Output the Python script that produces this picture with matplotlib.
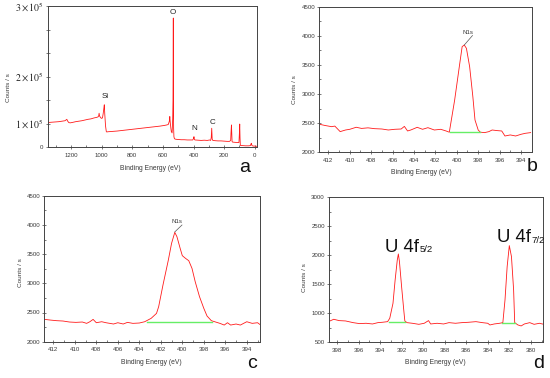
import matplotlib
matplotlib.use("Agg")
import matplotlib.pyplot as plt
from matplotlib.ticker import MultipleLocator

# ---------------- data ----------------
# panel a: survey spectrum (binding energy eV, counts/s)
a_energy = [1353, 1340, 1320, 1300, 1280, 1260, 1240, 1232, 1228, 1222, 1215, 1205, 1190, 1170,
            1150, 1130, 1110, 1090, 1070, 1050, 1035, 1025, 1020, 1017, 1014, 1008, 1002, 995,
            990, 985, 983, 980, 975, 970, 967, 960, 940, 900, 860, 820, 780, 740, 700, 660, 620,
            590, 575, 565, 558, 555, 552, 548, 545, 540, 536, 534, 533, 532, 531, 530, 528, 525,
            521, 515, 500, 480, 460, 440, 420, 405, 400, 397, 394, 390, 370, 350, 330, 310, 295,
            288, 284, 281, 278, 274, 260, 240, 220, 200, 180, 165, 157, 155, 152, 150, 148, 145,
            130, 115, 103, 100, 98, 96, 94, 92, 80, 60, 40, 28, 25, 22, 18, 10, 0, -12]
a_counts = [52000, 52500, 53000, 53500, 54000, 55000, 56000, 58000, 59000, 55000, 52000, 51500,
            52500, 54000, 55000, 56000, 57500, 59000, 60000, 62000, 63000, 64000, 66000, 72000,
            66000, 63000, 61000, 62000, 72000, 85000, 90000, 70000, 45000, 33000, 32000, 32500,
            33000, 34000, 35500, 37000, 38500, 40000, 41500, 43000, 44500, 46000, 47000, 48000,
            55000, 65000, 52000, 40000, 33000, 30000, 60000, 100000, 180000, 275000, 100000, 40000,
            22000, 18000, 17000, 16500, 16000, 15500, 15500, 15000, 15000, 15000, 18000, 22000,
            16000, 15000, 14500, 14000, 14500, 14000, 15000, 14000, 20000, 40000, 17000, 14000,
            13500, 13000, 13000, 12500, 12000, 12000, 14000, 30000, 47000, 30000, 12000, 10500,
            10000, 9500, 9500, 30000, 49000, 20000, 4000, 3000, 3000, 2500, 2500, 3000, 6000, 8000,
            3000, 2000, 2000, 1500]
a_peak_names = ["O", "Si", "N", "C"]
a_yticks = [0, 50000, 100000, 150000, 200000, 250000, 300000]
a_yticklabels = ["0", r"$1\times10^5$", "", r"$2\times10^5$", "", "", r"$3\times10^5$"]

# panel b: N1s high-resolution spectrum
b_energy = [412.8, 412.3, 411.7, 411.4, 410.9, 410.4, 410.0, 409.4, 408.9, 408.3, 407.7, 407.0,
            406.4, 405.8, 405.2, 404.9, 404.6, 404.3, 403.7, 403.2, 402.7, 402.1, 401.5, 401.0,
            400.7, 400.2, 399.7, 399.5, 399.3, 399.1, 398.8, 398.5, 398.3, 398.0, 397.8, 397.4,
            397.0, 396.7, 396.2, 395.8, 395.5, 395.0, 394.5, 394.0, 393.6, 393.1]
b_counts = [2480, 2460, 2440, 2450, 2355, 2383, 2395, 2430, 2410, 2420, 2406, 2400,
            2383, 2395, 2400, 2445, 2366, 2383, 2429, 2395, 2423, 2383, 2395, 2366,
            2345, 2898, 3556, 3814, 3842, 3785, 3470, 2955, 2555, 2383, 2345, 2338,
            2355, 2383, 2372, 2366, 2280, 2298, 2280, 2309, 2326, 2338]
b_base_energy = [400.65, 397.85]
b_base_counts = [2340, 2340]

# panel c: N1s high-resolution spectrum
c_energy = [412.8, 412.3, 411.7, 411.1, 410.5, 409.9, 409.3, 408.9, 408.6, 408.3, 408.0, 407.5,
            407.1, 406.4, 406.0, 405.5, 405.1, 404.6, 404.0, 403.5, 402.9, 402.4, 402.2, 401.8,
            401.3, 401.0, 400.7, 400.5, 400.2, 400.0, 399.7, 399.4, 399.1, 398.8, 398.4, 398.0,
            397.7, 397.3, 396.9, 396.5, 396.1, 395.8, 395.5, 395.0, 394.6, 394.0, 393.5, 393.0,
            392.8]
c_counts = [2382, 2371, 2360, 2354, 2337, 2331, 2337, 2314, 2342, 2382, 2325, 2342,
            2325, 2303, 2325, 2303, 2331, 2314, 2320, 2342, 2400, 2485, 2600, 2970,
            3398, 3684, 3872, 3798, 3598, 3473, 3427, 3387, 3256, 3027, 2771, 2571,
            2440, 2360, 2337, 2314, 2285, 2325, 2285, 2303, 2285, 2342, 2314, 2325,
            2297]
c_base_energy = [403.3, 397.2]
c_base_counts = [2345, 2345]

# panel d: U 4f high-resolution spectrum
d_energy = [398.65, 398.3, 397.8, 397.2, 396.5, 395.9, 395.3, 394.7, 394.2, 393.8, 393.3, 393.1,
            392.8, 392.6, 392.4, 392.3, 392.2, 392.0, 391.8, 391.7, 391.5, 391.0, 390.4, 389.9,
            389.5, 389.3, 388.7, 388.1, 387.6, 387.0, 386.4, 385.8, 385.1, 384.5, 384.0, 383.8,
            383.4, 382.9, 382.6, 382.4, 382.2, 382.0, 381.8, 381.6, 381.5, 381.2, 380.9, 380.6,
            380.1, 379.7, 379.2, 378.8]
d_counts = [868, 897, 874, 868, 839, 822, 828, 816, 839, 845, 856, 914,
            1172, 1575, 1920, 2023, 1891, 1460, 1057, 868, 839, 828, 810, 828,
            874, 816, 828, 816, 839, 828, 839, 845, 856, 839, 828, 799,
            816, 828, 839, 1230, 1805, 2167, 1977, 1402, 839, 799, 782, 816,
            839, 810, 828, 810]
d_base1_energy = [393.2, 391.7]
d_base1_counts = [852, 852]
d_base2_energy = [382.65, 381.5]
d_base2_counts = [828, 828]
d_peak_labels = [("U 4f", "5/2"), ("U 4f", "7/2")]

panel_letters = ["a", "b", "c", "d"]
xlabel_text = "Binding Energy (eV)"
ylabel_text = "Counts / s"

# ---------------- figure ----------------
W, H = 550, 378
fig = plt.figure(figsize=(W / 100, H / 100), dpi=100)
fig.patch.set_facecolor("white")

RED = "#ff1a1a"
GREEN = "#66ee66"
TXT = "#3a3a3a"
SANS = "Liberation Sans"


def box(l, r, t, b):
    return [l / W, 1 - b / H, (r - l) / W, (b - t) / H]


def ftext(x, y, s, **kw):
    return fig.text(x / W, 1 - y / H, s, **kw)


def style(ax, xmaj, xmin, ymaj, ymin):
    for sp in ax.spines.values():
        sp.set_linewidth(0.7)
        sp.set_color("#444444")
    ax.xaxis.set_major_locator(MultipleLocator(xmaj))
    ax.xaxis.set_minor_locator(MultipleLocator(xmin))
    if ymaj:
        ax.yaxis.set_major_locator(MultipleLocator(ymaj))
        ax.yaxis.set_minor_locator(MultipleLocator(ymin))
    ax.tick_params(which="major", direction="inout", length=3, width=0.5, color="#444444",
                   labelsize=4.4, labelcolor=TXT)
    ax.tick_params(which="minor", direction="in", length=1.5, width=0.5, color="#444444")
    ax.tick_params(axis="x", which="major", pad=2.5)
    ax.tick_params(axis="y", which="major", pad=1.5)
    for lab in ax.get_xticklabels() + ax.get_yticklabels():
        lab.set_fontfamily(SANS)


# ---- panel a ----
axa = fig.add_axes(box(47.7, 256.7, 6.3, 147))
axa.plot(a_energy, a_counts, color=RED, lw=0.6)
axa.set_xlim(1353, -13)
axa.set_ylim(0, 300000)
style(axa, 200, 100, None, None)
axa.set_yticks(a_yticks)
axa.set_yticklabels(a_yticklabels)
axa.tick_params(axis="y", which="major", direction="inout", length=3)
for lab in axa.get_yticklabels():
    if lab.get_text() == "0":
        lab.set_fontfamily(SANS)
        lab.set_fontsize(4.4)
    else:
        lab.set_fontsize(7)
        lab.set_math_fontfamily("stix")
        lab.set_color("#222222")
peak_a_pos = [(173, 13), (105, 97), (194, 129), (212, 123)]
for name, (px, py) in zip(a_peak_names, peak_a_pos):
    ftext(px, py, name, fontsize=5.8, family=SANS, color="#222222", ha="center", va="center")

# ---- panel b ----
axb = fig.add_axes(box(319.3, 531.7, 6.7, 152.3))
axb.plot(b_energy, b_counts, color=RED, lw=0.6)
axb.plot(b_base_energy, b_base_counts, color=GREEN, lw=1.0)
axb.set_xlim(412.85, 393.0)
axb.set_ylim(2000, 4500)
style(axb, 2, 1, 500, 250)
ftext(468, 33, "N1s", fontsize=4.4, family=SANS, color=TXT, ha="center", va="center")
fig.add_artist(plt.Line2D([464.3 / W, 472.5 / W], [1 - 45 / H, 1 - 35.5 / H], color="#555555", lw=0.5))

# ---- panel c ----
axc = fig.add_axes(box(44.3, 259.7, 195.7, 341.7))
axc.plot(c_energy, c_counts, color=RED, lw=0.6)
axc.plot(c_base_energy, c_base_counts, color=GREEN, lw=1.0)
axc.set_xlim(412.84, 392.8)
axc.set_ylim(2000, 4500)
style(axc, 2, 1, 500, 250)
ftext(176.7, 221.8, "N1s", fontsize=4.4, family=SANS, color=TXT, ha="center", va="center")
fig.add_artist(plt.Line2D([174.7 / W, 182 / W], [1 - 232 / H, 1 - 225 / H], color="#555555", lw=0.5))

# ---- panel d ----
axd = fig.add_axes(box(329, 542.7, 197.3, 342.3))
axd.plot(d_energy, d_counts, color=RED, lw=0.6)
axd.plot(d_base1_energy, d_base1_counts, color=GREEN, lw=1.0)
axd.plot(d_base2_energy, d_base2_counts, color=GREEN, lw=1.0)
axd.set_xlim(398.74, 378.9)
axd.set_ylim(500, 3000)
style(axd, 2, 1, 500, 250)

u_pos = [(385, 251.7), (496.7, 242.3)]
main_texts = []
for (main, sub), (px, py) in zip(d_peak_labels, u_pos):
    t = ftext(px, py, main, fontsize=13.4, family=SANS, color="#111111", ha="left", va="baseline")
    main_texts.append((t, sub, py))

# axis labels
for (cx, cy) in [(150, 169), (421.7, 173), (151.7, 363), (435, 363)]:
    ftext(cx, cy, xlabel_text, fontsize=4.9, family=SANS, color=TXT, ha="center", va="center")
for (cx, cy) in [(8, 88), (294, 90), (20, 273), (305, 278)]:
    ftext(cx, cy, ylabel_text, fontsize=4.6, family=SANS, color=TXT, ha="center", va="center",
          rotation=90)

# panel letters
for letter, (cx, cy) in zip(panel_letters, [(245, 168), (531.7, 166.7), (251.7, 363), (538.3, 363)]):
    ftext(cx, cy, letter, fontsize=14, family=SANS, color="#111111", ha="center", va="center")

# subscripts for U 4f labels
fig.canvas.draw()
rend = fig.canvas.get_renderer()
for t, sub, py in main_texts:
    bb = t.get_window_extent(rend)
    ftext(bb.x1 + 0.8, py + 0.3, sub, fontsize=6.8, family=SANS, color="#111111",
          ha="left", va="baseline")

fig.savefig("out.png", dpi=100, facecolor="white")
